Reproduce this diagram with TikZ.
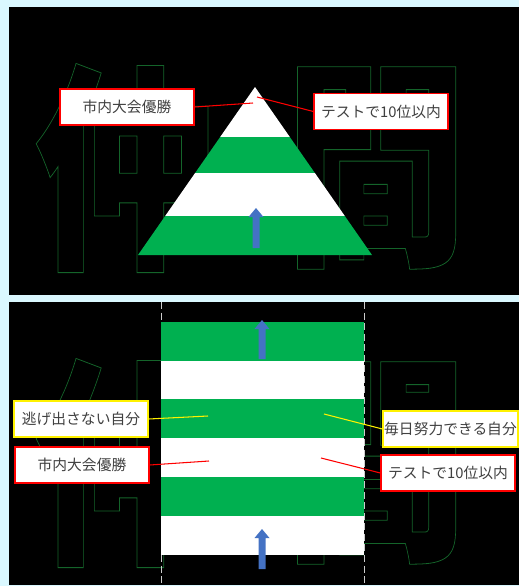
\documentclass[tikz,border=0pt]{standalone}
\usepackage{fontspec}
\usepackage{tikz}
\usetikzlibrary{positioning}
\newfontfamily\jpfont{Noto Sans CJK JP}
\definecolor{sky}{RGB}{218,248,255}
\definecolor{boxgreen}{HTML}{00B050}
\definecolor{arrowblue}{HTML}{4472C4}
\definecolor{inkgreen}{RGB}{20,100,42}
\definecolor{labeltext}{HTML}{404040}
% stroke-only text for the big background characters
\newcommand{\hollow}[1]{\scalebox{0.83}[1]{\special{pdf:literal direct 1 Tr 0.45 w}#1\special{pdf:literal direct 0 Tr}}}
% upward block arrow: x, base y, tip y
\newcommand{\blockarrow}[3]{%
  \fill[arrowblue] (#1-3.5,#2) -- (#1+3.5,#2) -- (#1+3.5,#3+9) -- (#1+7.5,#3+9)
    -- (#1,#3) -- (#1-7.5,#3+9) -- (#1-3.5,#3+9) -- cycle;}
\tikzset{
  kanji/.style={inner sep=0pt,text=inkgreen,font=\jpfont\bfseries\fontsize{126}{126}\selectfont},
  labelbox/.style={draw,fill=white,line width=0.7pt,minimum width=2.68cm,minimum height=0.72cm,
    inner sep=0pt,text=labeltext,font=\jpfont\fontsize{8.4}{10}\selectfont},
  redbox/.style={labelbox,draw=red},
  yellowbox/.style={labelbox,draw=yellow},
  redline/.style={red,line width=0.6pt},
  yellowline/.style={yellow,line width=0.6pt},
}
\begin{document}
\begin{tikzpicture}[x=0.02cm,y=-0.02cm]
  \useasboundingbox[fill=sky] (0,0) rectangle (519,586);
  \fill[black] (9,7) rectangle (519,295);
  \fill[black] (9,302) rectangle (519,585);

  % background characters
  \node[kanji] (nakaT) at (126,168) {\hollow{仲}};
  \node[kanji] (maT) at (376,168) {\hollow{間}};
  \node[kanji] (nakaB) at (126,463) {\hollow{仲}};
  \node[kanji] (maB) at (376,463) {\hollow{間}};

  % top: pyramid
  \begin{scope}
    \clip (255,87) -- (372,255) -- (138,255) -- cycle;
    \fill[white] (130,80) rectangle (380,137);
    \fill[boxgreen] (130,137) rectangle (380,173);
    \fill[white] (130,173) rectangle (380,216);
    \fill[boxgreen] (130,216) rectangle (380,256);
  \end{scope}
  \blockarrow{256}{248}{208}

  \node[redbox] (tcity) at (127,107) {市内大会優勝};
  \node[redbox] (ttest) at (381,111.5) {テストで10位以内};
  \coordinate (tcityEnd) at (253,103);
  \coordinate (ttestEnd) at (257,97);
  \draw[redline] (tcity.east) -- (tcityEnd);
  \draw[redline] (ttest.west) -- (ttestEnd);

  % bottom: stacked bands
  \draw[gray!40,line width=0.5pt,dash pattern=on 4pt off 2pt] (161,302) -- (161,584);
  \draw[gray!40,line width=0.5pt,dash pattern=on 4pt off 2pt] (364,302) -- (364,584);
  \fill[boxgreen] (161,322) rectangle (364,360.5);
  \fill[white] (161,360.5) rectangle (364,399);
  \fill[boxgreen] (161,399) rectangle (364,437.5);
  \fill[white] (161,437.5) rectangle (364,477);
  \fill[boxgreen] (161,477) rectangle (364,515.5);
  \fill[white] (161,515.5) rectangle (364,555);
  \blockarrow{262}{359}{320}
  \blockarrow{262}{569}{529}

  \node[yellowbox] (bflee) at (81,419) {逃げ出さない自分};
  \node[redbox] (bcity) at (82,465) {市内大会優勝};
  \node[yellowbox,minimum width=2.7cm] (beffort) at (450.5,429) {毎日努力できる自分};
  \node[redbox] (btest) at (448,473) {テストで10位以内};
  \coordinate (bfleeEnd) at (208,416);
  \coordinate (bcityEnd) at (209,461);
  \coordinate (beffortEnd) at (324,414);
  \coordinate (btestEnd) at (321,458);
  \draw[yellowline] (bflee.east) -- (bfleeEnd);
  \draw[redline] (bcity.east) -- (bcityEnd);
  \draw[yellowline] (beffort.west) -- (beffortEnd);
  \draw[redline] (btest.west) -- (btestEnd);
\end{tikzpicture}
\end{document}
